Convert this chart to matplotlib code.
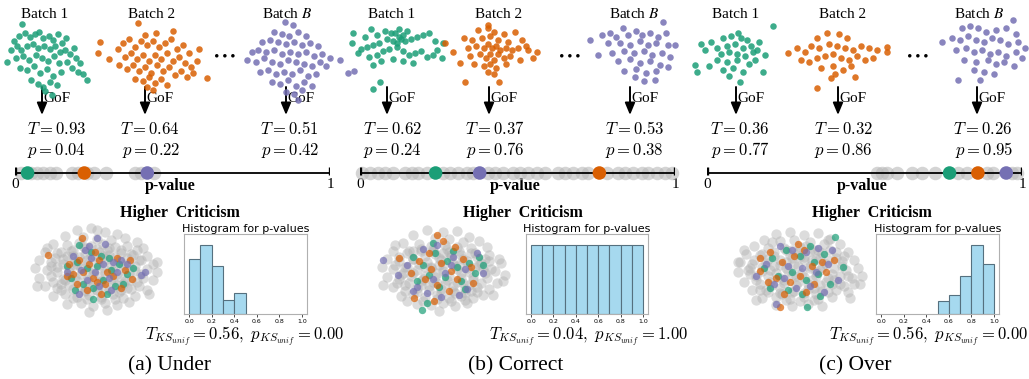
import numpy as np
import matplotlib.pyplot as plt

plt.rcParams['mathtext.fontset'] = 'cm'
plt.rcParams['font.family'] = 'Liberation Serif'

W, H = 1029, 379
GREEN, ORANGE, PURPLE = '#1b9e77', '#d95f02', '#7570b3'
BATCH_COLORS = [GREEN, ORANGE, PURPLE]

# ---- data -------------------------------------------------------------
captions = ['(a) Under', '(b) Correct', '(c) Over']
batch_names = ['Batch 1', 'Batch 2', 'Batch $B$']

# GoF statistic and p-value for batches 1, 2, B
T_under, p_under = [0.93, 0.64, 0.51], [0.04, 0.22, 0.42]
T_correct, p_correct = [0.62, 0.37, 0.53], [0.24, 0.76, 0.38]
T_over, p_over = [0.36, 0.32, 0.26], [0.77, 0.86, 0.95]

# p-values of the remaining batches
pgray_under = [0.02, 0.05, 0.07, 0.09, 0.11, 0.13, 0.18, 0.20, 0.23, 0.25,
               0.29, 0.38, 0.40, 0.44]
pgray_correct = [0.005, 0.032, 0.058, 0.079, 0.106, 0.143, 0.164, 0.185,
                 0.212, 0.265, 0.286, 0.312, 0.339, 0.36, 0.407, 0.429,
                 0.455, 0.487, 0.508, 0.534, 0.561, 0.587, 0.63, 0.651,
                 0.677, 0.704, 0.725, 0.783, 0.82, 0.841, 0.868, 0.894,
                 0.915, 0.942, 0.968, 0.99]
pgray_over = [0.54, 0.555, 0.57, 0.602, 0.65, 0.682, 0.724, 0.798, 0.824,
              0.888, 0.909, 0.967, 0.983]

# histogram of p-values (10 bins on [0, 1])
bin_left = [0.0, 0.1, 0.2, 0.3, 0.4, 0.5, 0.6, 0.7, 0.8, 0.9]
hist_under = [8, 10, 7, 2, 3, 0, 0, 0, 0, 0]
hist_correct = [3, 3, 3, 3, 3, 3, 3, 3, 3, 3]
hist_over = [0, 0, 0, 0, 0, 2, 3, 6, 11, 8]

# KS test against uniform
ks_T = [0.56, 0.04, 0.56]
ks_p = [0.00, 1.00, 0.00]

# batch samples (2-d embedding)
green_a = [(-25, 34), (-28, 22), (-22, 25), (-17, 21), (-12, 24), (-8, 26), (-4, 20), (2, 22), (6, 18), (11, 24),
           (15, 15), (19, 20), (-33, 17), (-30, 12), (-36, 8), (-26, 8), (-20, 12), (-14, 14), (-9, 10), (-3, 12),
           (3, 9), (8, 12), (13, 6), (18, 8), (23, 4), (27, 10), (29, 0), (33, -5), (-40, -4), (-31, 0), (-24, 2),
           (-18, -2), (-11, 3), (-5, 0), (1, -3), (7, 2), (12, -5), (20, -4), (25, -10), (31, -14), (36, -16),
           (40, -22), (-27, -10), (-20, -12), (-13, -8), (-7, -15), (0, -11), (6, -18), (14, -14), (-16, -22),
           (-9, -26), (-4, -29), (3, -24), (10, -27), (5, -37), (-2, -33)]
orange_a = [(-15, 34), (3, 24), (-8, 22), (-53, 15), (-55, 4), (-44, -2), (-35, 8), (-30, 14), (-24, 18), (-18, 10),
            (-12, 16), (-6, 12), (0, 16), (6, 10), (12, 14), (18, 18), (24, 8), (30, 12), (36, 4), (-28, 0), (-22, 4),
            (-16, -2), (-10, 2), (-4, -4), (2, 2), (8, -2), (14, 4), (20, -4), (26, 0), (32, -6), (38, -10), (44, -4),
            (-34, -8), (-26, -12), (-20, -8), (-14, -14), (-8, -10), (-2, -16), (4, -8), (10, -14), (16, -10),
            (22, -18), (28, -14), (34, -20), (40, -16), (54, -21), (-18, -22), (-10, -24), (-4, -20), (2, -26),
            (8, -22), (14, -28), (0, -33), (-6, -30), (46, 8), (20, 26)]
purple_a = [(-7, 38), (1, 35), (-18, 28), (-10, 26), (-3, 24), (6, 28), (14, 24), (-30, 18), (-22, 20), (-14, 18),
            (-6, 16), (2, 18), (10, 15), (18, 17), (26, 14), (-40, 8), (-34, 10), (-26, 8), (-18, 10), (-10, 6),
            (-2, 8), (6, 6), (14, 8), (22, 4), (30, 6), (38, 2), (-45, 0), (-36, -2), (-28, 2), (-20, -2), (-12, -4),
            (-4, 0), (4, -2), (12, -4), (20, -6), (28, -2), (34, -6), (48, 0), (-32, -12), (-24, -10), (-16, -14),
            (-8, -12), (0, -14), (8, -10), (16, -16), (24, -14), (-20, -22), (-12, -24), (-4, -20), (4, -26),
            (12, -22), (20, -26), (-6, -32), (2, -34), (10, -30), (6, -40), (56, -13), (62, -11)]

green_b = [(-44, 22), (-45, 12), (-39, 2), (-32, 18), (-26, 26), (-20, 20), (-12, 24), (-6, 22), (-2, 22), (2, 26),
           (6, 20), (10, 24), (4, 16), (-4, 14), (-10, 16), (-18, 12), (-24, 10), (-30, 8), (-36, 6), (8, 14),
           (14, 16), (20, 18), (26, 20), (32, 22), (38, 14), (46, 12), (40, 5), (45, -3), (-28, -2), (-20, 0),
           (-14, 4), (-8, 6), (0, 8), (6, 4), (12, 0), (18, 2), (24, 4), (30, -2), (36, 0), (-16, -6), (-4, -4),
           (6, -6), (16, -8), (-24, -10), (-17, -27), (-24, -34), (0, 12), (2, 18)]
orange_b = [(-4, 27), (-4, 24), (-14, 22), (2, 20), (12, 18), (23, 20), (-28, 14), (-20, 12), (-10, 14), (-2, 16),
            (6, 12), (16, 10), (30, 12), (-47, 9), (-39, 0), (-32, -11), (-24, 4), (-16, 6), (-8, 4), (-4, 8),
            (0, 4), (4, 6), (8, 2), (14, 4), (20, 2), (26, 4), (34, 6), (45, 0), (41, -6), (-22, -4), (-12, -2),
            (-6, -6), (-2, -2), (2, -8), (6, -2), (12, -6), (18, -4), (28, -8), (-18, -12), (-8, -14), (-2, -12),
            (4, -16), (14, -12), (-4, -20), (2, -22), (-27, -30), (7, -30), (36, 2)]
purple_b = [(-9, 25), (31, 31), (-42, 13), (-30, 18), (-22, 20), (-16, 16), (-4, 18), (4, 22), (10, 18), (18, 20),
            (26, 16), (34, 20), (-24, 10), (-12, 10), (-2, 8), (8, 12), (16, 8), (24, 10), (36, 8), (43, 8),
            (-34, -2), (-20, 0), (-8, 2), (2, 0), (12, 2), (20, -2), (30, 0), (38, -4), (-14, -8), (-2, -6),
            (8, -10), (18, -8), (28, -12), (36, -14), (-8, -18), (4, -16), (14, -20), (24, -18), (3, -24),
            (23, -27), (12, -28)]

green_c = [(38, 26), (3, 19), (-12, 14), (-4, 16), (6, 14), (12, 12), (-34, 8), (-24, 10), (-18, 4), (-8, 6),
           (0, 8), (8, 4), (16, 6), (24, 10), (-30, 2), (-14, -2), (-6, 0), (2, -2), (10, -4), (18, 0), (30, -3),
           (-40, -13), (-38, -20), (-26, -14), (-18, -8), (-8, -10), (2, -8), (14, -12), (20, -8), (28, -20),
           (-12, -18), (-2, -16), (8, -20), (5, -30), (-6, -24), (22, 2)]
orange_c = [(-10, 25), (2, 24), (-20, 20), (10, 20), (-49, 5), (-40, 10), (-32, 6), (-26, 12), (-18, 10), (-8, 14),
            (0, 12), (8, 10), (16, 8), (24, 12), (32, 10), (40, 8), (50, 11), (50, 6), (-36, -2), (-28, -4),
            (-20, 0), (-12, 2), (-4, 4), (4, 0), (12, -2), (20, 2), (28, -2), (36, 0), (-16, -10), (-4, -8),
            (6, -12), (14, -8), (-2, -16), (18, -19), (-20, -30), (-6, -20)]
purple_c = [(31, 30), (-20, 22), (-12, 24), (-4, 22), (4, 18), (14, 20), (24, 22), (34, 16), (-40, 8), (-30, 12),
            (-22, 10), (-14, 14), (-6, 10), (2, 8), (10, 12), (18, 10), (26, 6), (36, 8), (43, 2), (-26, 0),
            (-16, 2), (-8, -2), (0, 0), (8, -4), (16, -2), (24, -6), (34, -2), (-18, -10), (-6, -12), (6, -10),
            (14, -14), (22, -12), (32, -16), (-8, -20), (2, -22), (12, -24), (-24, -30), (-2, -30), (40, -8)]

# pooled samples seen by Higher Criticism (gray = all other batches)
gray_a = [(-20, 40), (-6, 42), (8, 38), (20, 36), (-32, 34), (-14, 33), (0, 31), (14, 30), (28, 32), (40, 28),
          (-44, 26), (-30, 25), (-18, 27), (-6, 24), (6, 26), (18, 23), (30, 24), (46, 22), (-52, 18), (-40, 17),
          (-26, 19), (-12, 16), (2, 18), (12, 15), (24, 17), (36, 15), (50, 14), (-58, 10), (-46, 8), (-34, 11),
          (-22, 9), (-10, 10), (0, 8), (10, 11), (22, 9), (32, 7), (44, 10), (56, 6), (-62, 2), (-50, 0), (-40, 3),
          (-28, 1), (-16, 2), (-4, 0), (6, 3), (16, -1), (28, 2), (38, -1), (50, 1), (60, -2), (-58, -8), (-46, -6),
          (-34, -9), (-22, -7), (-10, -10), (2, -6), (14, -9), (24, -7), (34, -10), (46, -8), (56, -10), (-52, -16),
          (-40, -18), (-28, -15), (-16, -17), (-4, -16), (8, -18), (20, -15), (30, -18), (42, -16), (50, -20),
          (-44, -26), (-32, -24), (-20, -27), (-8, -25), (4, -27), (16, -24), (26, -28), (38, -26), (-30, -34),
          (-16, -33), (-4, -36), (8, -33), (20, -35), (32, -32), (-8, -42), (10, -40), (-20, 6), (-8, -2), (4, -12),
          (18, 4), (-28, -6), (26, -14), (-14, 24), (10, 20), (-36, -14), (40, 20), (-2, 14), (12, -2), (-24, 14),
          (22, -22), (0, -20), (-12, -20), (-60, -16), (60, 8), (-50, 22), (52, -24), (0, 40),
          (-36, 18), (-24, 20), (-12, 22), (0, 21), (12, 22), (24, 20), (34, 16), (-42, 12), (-30, 14), (-18, 13),
          (-6, 15), (6, 14), (18, 13), (30, 12), (42, 10), (-46, 4), (-34, 6), (-22, 5), (-10, 6), (2, 5), (14, 6),
          (26, 5), (38, 4), (-40, -2), (-28, -2), (-16, -4), (-4, -4), (8, -3), (20, -4), (32, -3), (44, -4),
          (-44, -12), (-32, -10), (-20, -11), (-8, -12), (4, -11), (16, -12), (28, -11), (40, -12), (-36, -20),
          (-24, -19), (-12, -21), (0, -20), (12, -20), (24, -20), (34, -19), (-24, -28), (-10, -29), (4, -29),
          (18, -29)]
gray_b = [(-16, 41), (0, 39), (14, 40), (26, 34), (-30, 36), (-8, 33), (6, 32), (20, 29), (36, 30), (-40, 28),
          (-24, 27), (-12, 25), (2, 26), (14, 24), (28, 23), (44, 24), (-50, 20), (-36, 18), (-22, 20), (-8, 17),
          (6, 19), (18, 16), (32, 18), (46, 16), (56, 12), (-56, 12), (-44, 10), (-30, 12), (-16, 9), (-2, 11),
          (10, 8), (24, 10), (38, 8), (-61, 4), (-50, 2), (-38, 4), (-26, 1), (-12, 3), (0, 0), (14, 2), (26, -1),
          (40, 2), (52, 0), (62, -4), (-56, -6), (-44, -8), (-32, -5), (-20, -8), (-8, -6), (4, -9), (18, -7),
          (30, -9), (44, -7), (54, -12), (-50, -16), (-38, -14), (-26, -17), (-14, -15), (-2, -18), (10, -15),
          (22, -18), (34, -16), (46, -18), (-42, -25), (-30, -23), (-18, -26), (-6, -24), (6, -27), (18, -25),
          (30, -27), (40, -24), (-26, -33), (-12, -34), (0, -32), (12, -35), (24, -32), (-4, -40), (-36, -30),
          (-18, 4), (-6, -12), (8, 14), (20, -12), (-30, 20), (32, 4), (-10, 22), (12, -22), (-40, -2), (42, 12),
          (0, 18), (-22, -10), (16, 6), (-4, 6), (28, -20), (-60, -14), (58, 8), (-48, 26), (50, -24), (60, -10),
          (-34, 20), (-22, 22), (-10, 20), (4, 22), (16, 20), (28, 18), (-44, 14), (-30, 12), (-18, 15), (-4, 13),
          (8, 16), (20, 12), (34, 14), (46, 10), (-48, 6), (-36, 4), (-24, 7), (-12, 4), (0, 6), (12, 5), (24, 3),
          (36, 6), (48, 2), (-42, -4), (-30, -2), (-18, -5), (-6, -2), (6, -5), (18, -2), (30, -6), (42, -2),
          (-46, -12), (-34, -12), (-22, -14), (-10, -11), (2, -13), (14, -11), (26, -14), (38, -12), (-38, -20),
          (-26, -21), (-14, -19), (-2, -22), (10, -20), (22, -22), (34, -21), (-20, -30), (-6, -28), (8, -30),
          (22, -29)]
gray_c = [(-24, 36), (-10, 38), (4, 35), (18, 37), (30, 31), (-36, 30), (-20, 29), (-6, 30), (10, 28), (24, 26),
          (40, 26), (-46, 24), (-32, 22), (-16, 22), (0, 23), (14, 20), (30, 20), (48, 18), (-54, 16), (-40, 15),
          (-26, 14), (-10, 15), (4, 13), (20, 12), (36, 12), (54, 10), (-60, 8), (-48, 6), (-34, 7), (-20, 5),
          (-6, 6), (10, 4), (26, 6), (42, 4), (58, 2), (-62, -2), (-50, -4), (-38, -1), (-24, -3), (-12, -1),
          (2, -3), (16, -2), (32, -4), (48, -6), (62, -6), (-56, -12), (-44, -10), (-30, -12), (-16, -10),
          (-2, -12), (12, -10), (26, -12), (40, -14), (54, -14), (-48, -20), (-34, -20), (-20, -18), (-6, -21),
          (8, -19), (22, -21), (36, -20), (48, -22), (-38, -28), (-24, -27), (-10, -29), (4, -27), (18, -29),
          (32, -27), (-24, -35), (-8, -36), (8, -34), (22, -36), (-14, 8), (0, 14), (14, -18), (-28, 28),
          (34, -10), (-40, -20), (18, 20), (-4, -6), (6, 24), (-18, -24), (44, 14), (-52, 0), (28, 30), (-8, 20),
          (20, 0), (-30, 0), (12, 10), (-62, 8), (60, -14), (-56, 20), (50, -28), (-44, -30),
          (-38, 16), (-26, 18), (-14, 20), (-2, 18), (10, 19), (22, 17), (36, 18), (-46, 10), (-32, 11), (-20, 10),
          (-8, 12), (4, 10), (16, 11), (28, 10), (42, 9), (-50, 2), (-38, 3), (-26, 4), (-14, 2), (-2, 4), (10, 2),
          (22, 3), (34, 2), (46, 0), (-44, -6), (-32, -6), (-20, -8), (-8, -5), (4, -7), (16, -6), (28, -8),
          (40, -6), (52, -8), (-40, -14), (-28, -15), (-16, -13), (-4, -15), (8, -14), (20, -15), (32, -14),
          (44, -16), (-32, -22), (-20, -23), (-8, -22), (4, -23), (16, -24), (28, -22), (-14, -30), (0, -31),
          (14, -30)]

hc_green_a = [(-18, 25), (-6, 18), (4, 14), (12, 12), (-20, 8), (-10, 2), (0, 4), (14, 0), (22, 6), (30, -4),
              (-26, -8), (-14, -14), (-4, -18), (6, -10), (18, -16), (-22, -20), (-4, -29), (26, -14), (10, -24),
              (-30, 4), (36, 2)]
hc_orange_a = [(-49, 15), (-15, 32), (33, 10), (35, -9), (-28, 6), (-18, 10), (-8, 6), (2, 10), (10, -2), (20, 12),
               (-24, -4), (-14, -2), (-4, -8), (8, -14), (-20, -14), (-10, -20), (0, -12), (16, -6), (24, -18),
               (-30, -6), (4, -24), (28, 0), (-2, 18)]
hc_purple_a = [(0, 32), (8, 26), (-12, 20), (-24, 14), (-6, 12), (6, 6), (16, 8), (24, 10), (-16, 0), (-2, -2),
               (12, -8), (20, -2), (-30, -2), (-10, -10), (2, -16), (14, -20), (-18, -24), (48, -2), (44, -5),
               (30, 6), (-8, 24)]
hc_green_b = [(-21, -39), (-16, -32), (-30, 14), (-20, 6), (-8, 18), (4, 10), (14, 4), (26, 8), (-14, -4), (2, -6),
              (18, -10), (-4, -16), (32, -2), (-26, -10), (10, 20), (36, 14), (22, -18), (-10, 28), (40, 6)]
hc_orange_b = [(-29, -27), (-9, -30), (-44, 13), (-24, 10), (-12, 2), (-2, 8), (8, 0), (20, 12), (-18, -8),
               (-6, -14), (6, -20), (14, -8), (28, 4), (-32, -2), (0, 30), (-6, 36), (30, -12), (12, 24), (-14, 18)]
hc_purple_b = [(-60, 11), (-45, -4), (-36, 6), (-20, 22), (-6, 26), (10, 14), (22, 2), (-26, -16), (-10, -8),
               (2, -2), (16, -24), (24, -18), (-16, -22), (34, 18), (-2, -26), (-30, -20), (8, 6), (40, -2)]
hc_green_c = [(35, 33), (7, -37), (43, 3), (-28, 12), (-14, 20), (0, 14), (14, 8), (24, 16), (-22, -6), (-8, -2),
              (6, -10), (18, -4), (30, -14), (-30, -18), (-12, -20), (2, -24), (20, -26), (-36, 2), (10, 24)]
hc_orange_c = [(-20, -37), (-40, 12), (-40, -1), (-30, 18), (-18, 8), (-6, 14), (4, 20), (12, 4), (22, 8),
               (-24, -8), (-10, -12), (0, -6), (14, -14), (26, -2), (34, 10), (-16, -24), (6, -22), (-2, 26),
               (-32, -12)]
hc_purple_c = [(-24, -34), (-20, 24), (-8, 20), (6, 18), (18, 22), (-34, 6), (-12, 4), (2, 2), (16, -2), (28, 6),
               (-26, -14), (-4, -18), (10, -16), (24, -22), (38, -10), (-16, -8), (32, 20), (-44, -6)]

panels = [
    dict(T=T_under, p=p_under, pgray=pgray_under, hist=hist_under,
         batches=[green_a, orange_a, purple_a], gray=gray_a, hc=[hc_green_a, hc_orange_a, hc_purple_a]),
    dict(T=T_correct, p=p_correct, pgray=pgray_correct, hist=hist_correct,
         batches=[green_b, orange_b, purple_b], gray=gray_b, hc=[hc_green_b, hc_orange_b, hc_purple_b]),
    dict(T=T_over, p=p_over, pgray=pgray_over, hist=hist_over,
         batches=[green_c, orange_c, purple_c], gray=gray_c, hc=[hc_green_c, hc_orange_c, hc_purple_c]),
]

# pixel layout of each panel
layout = [
    dict(label_x=(45, 152, 287), clouds=((47, 58), (153, 57), (292, 60)), dots_x=223,
         arrow_x=(42, 145, 286), stat_x=(86, 180, 319), line=(15, 330), hc=(97, 270),
         hist=(184, 234, 307, 314), title_x=180, ks_x=245, cap_x=169),
    dict(label_x=(392, 499, 634), clouds=((397, 55), (492, 52), (632, 53)), dots_x=568,
         arrow_x=(387, 489, 630), stat_x=(422, 525, 664), line=(360, 675), hc=(443, 271),
         hist=(526, 234, 648, 314), title_x=523, ks_x=589, cap_x=516),
    dict(label_x=(736, 843, 979), clouds=((735, 52), (837, 58), (982, 50)), dots_x=916,
         arrow_x=(736, 838, 977), stat_x=(770, 873, 1013), line=(707, 1022), hc=(800, 270),
         hist=(876, 234, 999, 314), title_x=872, ks_x=929, cap_x=855),
]

fig = plt.figure(figsize=(W / 100, H / 100), dpi=100)
canvas = fig.add_axes([0, 0, 1, 1])
canvas.set_xlim(0, W)
canvas.set_ylim(H, 0)
canvas.axis('off')


def px_axes(cx, cy, w, h):
    # axes whose data units are screen pixels, centred on (cx, cy)
    ax = fig.add_axes([(cx - w / 2) / W, 1 - (cy + h / 2) / H, w / W, h / H])
    ax.set_xlim(-w / 2, w / 2)
    ax.set_ylim(-h / 2, h / 2)
    ax.axis('off')
    return ax


for panel, lay, cap, kT, kp in zip(panels, layout, captions, ks_T, ks_p):
    # batches on top row
    for i in range(3):
        cx, cy = lay['clouds'][i]
        ax = px_axes(cx, cy, 130, 100)
        pts = np.array(panel['batches'][i])
        ax.scatter(pts[:, 0], pts[:, 1], s=22, color=BATCH_COLORS[i], alpha=0.85,
                   linewidths=0, clip_on=False)
        canvas.text(lay['label_x'][i], 14, batch_names[i], fontsize=11, ha='center', va='center',
                    math_fontfamily='stix')
        ax_x = lay['arrow_x'][i]
        canvas.annotate('', xy=(ax_x, 115), xytext=(ax_x, 87),
                        arrowprops=dict(arrowstyle='-|>,head_length=0.48,head_width=0.2',
                                        color='k', lw=1.4, mutation_scale=15, shrinkA=0, shrinkB=0))
        canvas.text(ax_x + 1, 98.5, 'GoF', fontsize=11, ha='left', va='center')
        canvas.text(lay['stat_x'][i], 130, rf'$T = {panel["T"][i]:.2f}$', fontsize=12,
                    ha='right', va='center')
        canvas.text(lay['stat_x'][i], 150, rf'$p = {panel["p"][i]:.2f}$', fontsize=12,
                    ha='right', va='center')
    canvas.text(lay['dots_x'], 55, r'$\cdots$', fontsize=20, ha='center', va='center')

    # p-value number line
    x0, x1 = lay['line']
    ax = fig.add_axes([x0 / W, 1 - (173 + 14) / H, (x1 - x0) / W, 28 / H])
    ax.set_xlim(0, 1)
    ax.set_ylim(-14, 14)
    ax.axis('off')
    ax.scatter(panel['pgray'], np.zeros(len(panel['pgray'])), s=95, color='#b8b8b8',
               alpha=0.6, linewidths=0, clip_on=False, zorder=1)
    ax.plot([0, 1], [0, 0], color='k', lw=1.3, zorder=2, solid_capstyle='butt')
    for end in (0, 1):
        ax.plot([end, end], [-2, 6], color='k', lw=2.4, zorder=2, solid_capstyle='butt')
    ax.scatter(panel['p'], np.zeros(3), s=95, color=BATCH_COLORS, linewidths=0,
               clip_on=False, zorder=3)
    canvas.text(x0, 184, '0', fontsize=11, ha='center', va='center')
    canvas.text(x1, 184, '1', fontsize=11, ha='center', va='center')
    canvas.text((x0 + x1) / 2 - 2, 186, 'p-value', fontsize=11.5, fontweight='bold',
                ha='center', va='center')

    # Higher Criticism on pooled samples
    canvas.text(lay['title_x'], 213, 'Higher  Criticism', fontsize=11.5, fontweight='bold',
                ha='center', va='center')
    cx, cy = lay['hc']
    ax = px_axes(cx, cy, 140, 100)
    g = np.array(panel['gray'])
    ax.scatter(g[:, 0], g[:, 1], s=55, color='#b2b2b2', alpha=0.45, linewidths=0, clip_on=False)
    for pts, col in zip(panel['hc'], BATCH_COLORS):
        pts = np.array(pts)
        ax.scatter(pts[:, 0], pts[:, 1], s=28, color=col, alpha=0.7, linewidths=0, clip_on=False)

    # histogram of all p-values
    hx0, hy0, hx1, hy1 = lay['hist']
    ax = fig.add_axes([hx0 / W, 1 - hy1 / H, (hx1 - hx0) / W, (hy1 - hy0) / H])
    counts = np.array(panel['hist'])
    keep = counts > 0
    ax.bar(np.array(bin_left)[keep], counts[keep], width=0.1, align='edge',
           color='#a6d9ef', edgecolor='#55707f', linewidth=0.8)
    ax.set_xlim(-0.045, 1.045)
    ax.set_ylim(0, counts.max() / 0.86)
    ax.set_xticks([0.0, 0.2, 0.4, 0.6, 0.8, 1.0])
    ax.set_xticklabels(['0.0', '0.2', '0.4', '0.6', '0.8', '1.0'], family='DejaVu Sans')
    ax.set_yticks([])
    ax.tick_params(axis='x', labelsize=4.5, length=2, width=0.5, pad=1.5)
    for sp in ax.spines.values():
        sp.set_color('#b0b0b0')
        sp.set_linewidth(0.8)
    ax.set_title('Histogram for p-values', fontsize=8, pad=1.5, family='DejaVu Sans')

    canvas.text(lay['ks_x'], 337, rf'$T_{{KS_{{unif}}}} = {kT:.2f},\ p_{{KS_{{unif}}}} = {kp:.2f}$',
                fontsize=12, ha='center', va='center')
    canvas.text(lay['cap_x'], 366, cap, fontsize=15.5, ha='center', va='center')

fig.savefig('out.png', dpi=100)
